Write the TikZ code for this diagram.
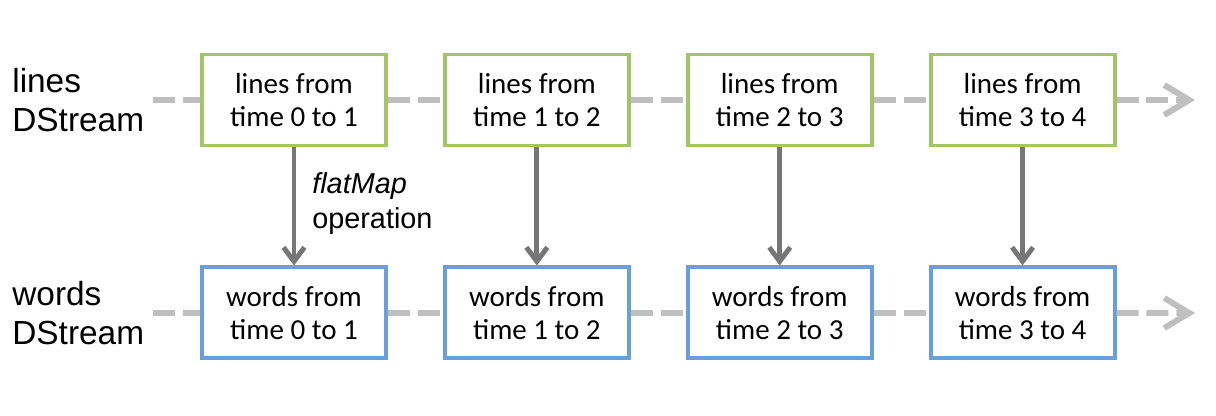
\documentclass[tikz,border=0pt]{standalone}
\usepackage{fontspec}
\setmainfont{Carlito}
\newfontfamily\arialfont{Liberation Sans}
\usetikzlibrary{positioning, arrows.meta}
\definecolor{lineGreen}{HTML}{A2C565}
\definecolor{wordBlue}{HTML}{6A9FDC}
\definecolor{flowGray}{HTML}{BFBFBF}
\definecolor{opGray}{HTML}{767676}

\begin{document}
\begin{tikzpicture}[
      linesbox/.style={rectangle, draw=lineGreen, line width=2.2pt, fill=white, minimum width=3.68cm, minimum height=1.82cm, align=center, font=\fontsize{16.5}{19}\selectfont},
      wordsbox/.style={linesbox, draw=wordBlue},
      streamlabel/.style={anchor=west, inner sep=0pt, align=left, font=\arialfont\fontsize{19}{22}\selectfont},
      flow/.style={draw=flowGray, line width=3.4pt, dash pattern=on 12.5pt off 4.5pt},
      op/.style={->, draw=opGray, line width=2.8pt, >={Straight Barb[length=0.28cm, width=0.42cm]}}
    ]
      \useasboundingbox (0,0) rectangle (24.32,8.3);

      \node[linesbox] (l1) at (5.88,6.3) {lines from\\time 0 to 1};
      \node[linesbox, right=1.1cm of l1] (l2) {lines from\\time 1 to 2};
      \node[linesbox, right=1.1cm of l2] (l3) {lines from\\time 2 to 3};
      \node[linesbox, right=1.1cm of l3] (l4) {lines from\\time 3 to 4};

      \node[wordsbox, below=2.36cm of l1] (w1) {words from\\time 0 to 1};
      \node[wordsbox, below=2.36cm of l2] (w2) {words from\\time 1 to 2};
      \node[wordsbox, below=2.36cm of l3] (w3) {words from\\time 2 to 3};
      \node[wordsbox, below=2.36cm of l4] (w4) {words from\\time 3 to 4};

      \node[streamlabel] (lname) at (0.24,6.3) {lines\\DStream};
      \node[streamlabel] (wname) at (0.24,2.04) {words\\DStream};

      \coordinate (lstart) at (3.06,6.3);
      \coordinate (lend) at (23.9,6.3);
      \coordinate (wstart) at (3.06,2.04);
      \coordinate (wend) at (23.9,2.04);

      % the two streams
      \draw[flow] (lstart) -- (l1);
      \draw[flow] (l1) -- (l2);
      \draw[flow] (l2) -- (l3);
      \draw[flow] (l3) -- (l4);
      \draw[flow, -{Straight Barb[length=0.5cm, width=0.6cm]}] (l4) -- (lend);

      \draw[flow] (wstart) -- (w1);
      \draw[flow] (w1) -- (w2);
      \draw[flow] (w2) -- (w3);
      \draw[flow] (w3) -- (w4);
      \draw[flow, -{Straight Barb[length=0.5cm, width=0.6cm]}] (w4) -- (wend);

      % flatMap per batch
      \draw[op] (l1) -- node[right=0.2cm, yshift=0.06cm, align=left, text=black, font=\arialfont\fontsize{16.4}{20}\selectfont] (opname) {\textit{flatMap}\\operation} (w1);
      \draw[op] (l2) -- (w2);
      \draw[op] (l3) -- (w3);
      \draw[op] (l4) -- (w4);
    \end{tikzpicture}
\end{document}
